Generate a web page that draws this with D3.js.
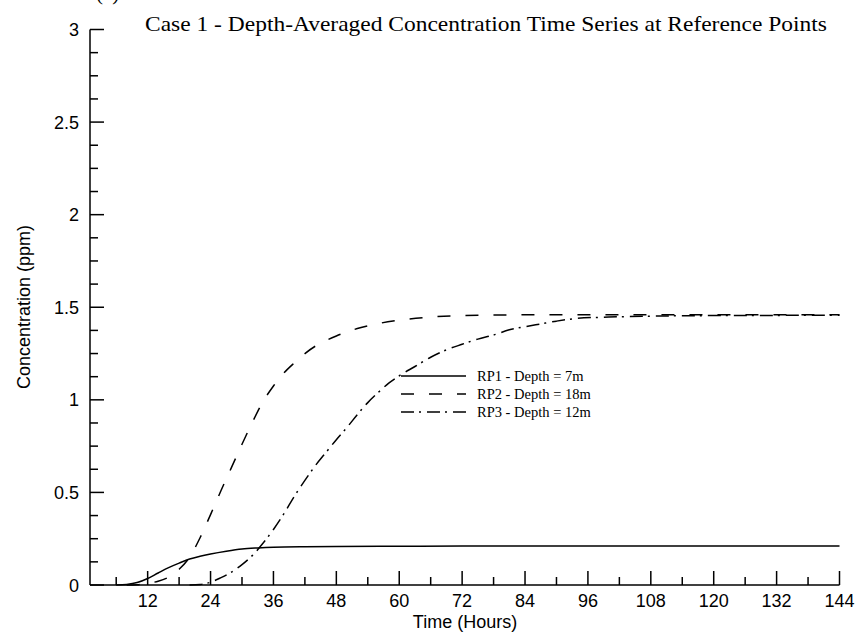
<!DOCTYPE html>
<html><head><meta charset="utf-8">
<script src="https://cdn.jsdelivr.net/npm/d3@7"></script>
<style>body{margin:0;background:#fff}svg{display:block}</style>
</head><body>
<svg id="c" width="858" height="636"></svg>
<script>
const title = "Case 1 - Depth-Averaged Concentration Time Series at Reference Points";
const xTitle = "Time (Hours)";
const yTitle = "Concentration (ppm)";
const seriesNames = ["RP1 - Depth = 7m", "RP2 - Depth = 18m", "RP3 - Depth = 12m"];
const xMajorTicks = [12,24,36,48,60,72,84,96,108,120,132,144];
const xMinorTicks = [6,18,30,42,54,66,78,90,102,114,126,138];
const yMajorTicks = [0,0.5,1,1.5,2,2.5,3];
const yTickLabels = ["0","0.5","1","1.5","2","2.5","3"];

const rp1Hours = [6,8,10,12,14,16,18,20,22,24,27,30,33,36,42,48,60,72,96,120,144];
const rp1Values = [0,0.003,0.013,0.035,0.065,0.094,0.118,0.14,0.155,0.167,0.182,0.194,0.2,0.204,0.207,0.208,0.209,0.21,0.21,0.21,0.21];

const rp2Hours = [8,10,12,14,16,18,20,22,24,26,28,30,32,34,36,38,40,42,44,46,48,52,56,60,66,72,84,108,144];
const rp2Values = [0,0.002,0.01,0.02,0.042,0.085,0.15,0.255,0.38,0.51,0.635,0.76,0.88,0.99,1.075,1.145,1.2,1.25,1.29,1.32,1.345,1.385,1.412,1.43,1.447,1.455,1.459,1.46,1.46];

const rp3Hours = [20,22,24,26,28,30,32,34,36,38,40,42,44,46,48,50,52,54,56,58,60,63,66,69,72,75,78,81,84,87,90,94,100,108,120,132,144];
const rp3Values = [0,0.003,0.015,0.04,0.07,0.11,0.16,0.225,0.3,0.385,0.48,0.565,0.645,0.715,0.785,0.85,0.92,0.985,1.04,1.09,1.13,1.18,1.23,1.27,1.3,1.328,1.35,1.378,1.395,1.41,1.425,1.44,1.447,1.452,1.455,1.456,1.457];

const svg = d3.select("#c");
const x = d3.scaleLinear().domain([1,144]).range([90,839.5]);
const y = d3.scaleLinear().domain([0,3]).range([585,29.5]);
const sans = "'Liberation Sans', Arial, sans-serif";
const serif = "'Liberation Serif', 'Times New Roman', serif";

// axes lines
svg.append("line").attr("x1",x(1)).attr("x2",x(144)).attr("y1",y(0)).attr("y2",y(0)).attr("stroke","#000").attr("stroke-width",1.5);
svg.append("line").attr("x1",x(1)).attr("x2",x(1)).attr("y1",y(0)).attr("y2",y(3)).attr("stroke","#000").attr("stroke-width",1.5);

// x ticks
const xg = svg.append("g");
xMajorTicks.forEach(t=>{
  xg.append("line").attr("x1",x(t)).attr("x2",x(t)).attr("y1",y(0)).attr("y2",y(0)-14).attr("stroke","#000").attr("stroke-width",1.5);
  xg.append("text").attr("x",x(t)).attr("y",607).attr("text-anchor","middle").attr("font-family",sans).attr("font-size",18).text(t);
});
xMinorTicks.forEach(t=>{
  xg.append("line").attr("x1",x(t)).attr("x2",x(t)).attr("y1",y(0)).attr("y2",y(0)-8).attr("stroke","#000").attr("stroke-width",1.5);
});
// y ticks
const yg = svg.append("g");
yMajorTicks.forEach((t,i)=>{
  yg.append("line").attr("x1",x(1)).attr("x2",x(1)+14).attr("y1",y(t)).attr("y2",y(t)).attr("stroke","#000").attr("stroke-width",1.5);
  yg.append("text").attr("x",79).attr("y",y(t)+6.5).attr("text-anchor","end").attr("font-family",sans).attr("font-size",18).text(yTickLabels[i]);
});
d3.range(0,24).forEach(i=>{
  const v = i*0.125;
  if (i%4===0) return;
  yg.append("line").attr("x1",x(1)).attr("x2",x(1)+8).attr("y1",y(v)).attr("y2",y(v)).attr("stroke","#000").attr("stroke-width",1.5);
});

// titles
svg.append("text").attr("x",465).attr("y",628).attr("text-anchor","middle").attr("font-family",sans).attr("font-size",18).text(xTitle);
svg.append("text").attr("transform","translate(30,307) rotate(-90)").attr("text-anchor","middle").attr("font-family",sans).attr("font-size",18).text(yTitle);
svg.append("text").attr("x",145).attr("y",31).attr("font-family",serif).attr("font-size",22)
  .attr("textLength",682).attr("lengthAdjust","spacingAndGlyphs").text(title);
svg.append("text").attr("x",96).attr("y",0).attr("font-family",serif).attr("font-size",21).text("(a)");

// series
const dashes = [null, "13,15", "13,5,2,6"];
const series = [
  {h:rp1Hours, v:rp1Values},
  {h:rp2Hours, v:rp2Values},
  {h:rp3Hours, v:rp3Values}
];
const line = d3.line().x(d=>x(d[0])).y(d=>y(d[1])).curve(d3.curveMonotoneX);
series.forEach((s,i)=>{
  const pts = s.h.map((h,j)=>[h,s.v[j]]);
  svg.append("path").attr("d",line(pts)).attr("fill","none").attr("stroke","#000").attr("stroke-width",1.5)
    .attr("stroke-dasharray",dashes[i]);
});

// legend
const lg = svg.append("g");
seriesNames.forEach((n,i)=>{
  const yy = 376 + i*18;
  lg.append("line").attr("x1",401).attr("x2",466).attr("y1",yy).attr("y2",yy).attr("stroke","#000").attr("stroke-width",1.5).attr("stroke-dasharray",dashes[i]);
  lg.append("text").attr("x",477).attr("y",yy+5).attr("font-family",serif).attr("font-size",14.5).text(n);
});
</script>
</body></html>
